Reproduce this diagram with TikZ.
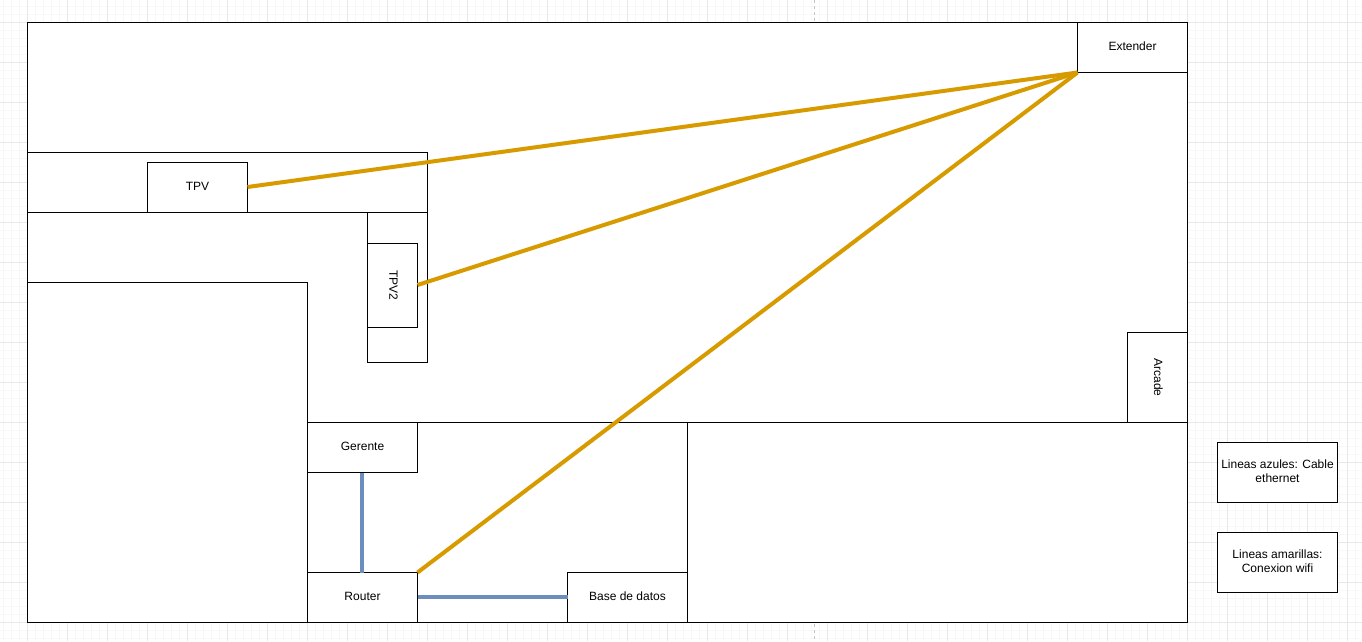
\documentclass[tikz,border=0pt]{standalone}
\usepackage{graphicx}
\usepackage{fontspec}
\setmainfont{Liberation Sans}
\definecolor{gridmajor}{HTML}{E8E8E8}
\definecolor{gridminor}{HTML}{F8F8F8}
\definecolor{breakline}{HTML}{C4C4C4}
\definecolor{wifi}{HTML}{D79B00}
\definecolor{cable}{HTML}{6C8EBF}
\tikzset{
  room/.style={draw=black,fill=white,line width=1pt,inner sep=0pt,outer sep=0pt,anchor=north west,align=center,
    font=\fontsize{12}{14}\selectfont,text=black},
  wifilink/.style={draw=wifi,line width=4pt},
  cablelink/.style={draw=cable,line width=4pt},
}
\newcommand{\roombox}[6]{% name, x, y, w, h, text
  \node[room,minimum width=#4pt,minimum height=#5pt] (#1) at (#2,#3) {#6};}
\newcommand{\leveltext}[1]{\begin{tabular}{@{}c@{}}#1\end{tabular}}
\newcommand{\turnedtext}[1]{\hspace*{2pt}\rotatebox[origin=c]{-90}{#1}}
\begin{document}
\begin{tikzpicture}[x=1pt,y=-1pt]
  \useasboundingbox (0,0) rectangle (1362,641);
  \fill[white] (0,0) rectangle (1362,641);
  % background grid
  \foreach \k in {0,...,170} {
    \draw[gridminor,line width=1pt] ({3.5+8*\k},0) -- ({3.5+8*\k},641);
  }
  \foreach \k in {0,...,80} {
    \draw[gridminor,line width=1pt] (0,{6.5+8*\k}) -- (1362,{6.5+8*\k});
  }
  \foreach \k in {0,...,34} {
    \draw[gridmajor,line width=1pt] ({27.5+40*\k},0) -- ({27.5+40*\k},641);
  }
  \foreach \k in {0,...,15} {
    \draw[gridmajor,line width=1pt] (0,{22.5+40*\k}) -- (1362,{22.5+40*\k});
  }
  \draw[breakline,line width=1pt,dash pattern=on 3pt off 3pt] (814.5,0) -- (814.5,641);
  % rooms
  \roombox{outer}{27.5}{22.5}{1160}{600}{}
  \roombox{strip}{27.5}{152.5}{400}{60}{}
  \roombox{tpv}{147.5}{162.5}{100}{50}{\leveltext{TPV}}
  \roombox{counter}{367.5}{212.5}{60}{150}{}
  \roombox{tpvtwo}{367.5}{243.5}{50}{84}{\turnedtext{TPV2}}
  \roombox{bigleft}{27.5}{282.5}{280}{340}{}
  \roombox{office}{307.5}{422.5}{380}{200}{}
  \roombox{hall}{687.5}{422.5}{500}{200}{}
  \roombox{gerente}{307.5}{422.5}{110}{50}{\leveltext{Gerente}}
  \roombox{router}{307.5}{572.5}{110}{50}{\leveltext{Router}}
  \roombox{base}{567.5}{572.5}{120}{50}{\leveltext{Base de datos}}
  \roombox{extender}{1077.5}{22.5}{110}{50}{\leveltext{Extender}}
  \roombox{arcade}{1127.5}{332.5}{60}{90}{\turnedtext{Arcade}}
  \roombox{legendblue}{1217.5}{442.5}{120}{60}{\leveltext{Lineas azules: Cable\\ethernet}}
  \roombox{legendyellow}{1217.5}{532.5}{120}{60}{\leveltext{Lineas amarillas:\\Conexion wifi}}
  % connectors
  \draw[wifilink] ([yshift=0.5pt]tpv.east) -- (extender.south west);
  \draw[wifilink] ([yshift=0.5pt]tpvtwo.east) -- (extender.south west);
  \draw[wifilink] (router.north east) -- (extender.south west);
  \draw[cablelink] ([xshift=-0.5pt]gerente.south) -- ([xshift=-0.5pt]router.north);
  \draw[cablelink] ([yshift=0.5pt]router.east) -- ([yshift=0.5pt]base.west);
\end{tikzpicture}
\end{document}
